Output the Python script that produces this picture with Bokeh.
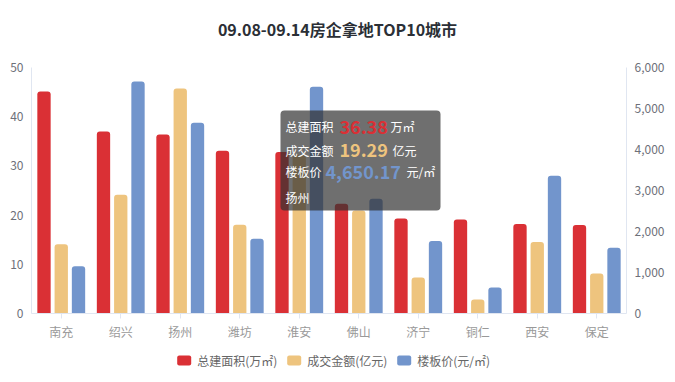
from bokeh.plotting import figure
from bokeh.layouts import column
from bokeh.models import (FactorRange, Range1d, LinearAxis, NumeralTickFormatter,
                          BoxAnnotation, Label, ColumnDataSource)
from bokeh.core.properties import value
from bokeh.transform import dodge
from bokeh.embed import file_html
from bokeh.resources import INLINE

# ---------------- data ----------------
cities = ["南充", "绍兴", "扬州", "潍坊", "淮安", "佛山", "济宁", "铜仁", "西安", "保定"]
area = [45.1, 37.0, 36.38, 33.1, 32.8, 22.3, 19.3, 19.1, 18.2, 18.0]        # 总建面积(万㎡)
amount = [5.93, 10.17, 19.29, 7.61, 13.6, 8.83, 3.08, 1.20, 6.12, 3.42]     # 成交金额(亿元)
price = [1151, 5659, 4650.17, 1825, 5530, 2798, 1766, 633, 3358, 1606]      # 楼板价(元/㎡)
left_ticks = [0, 10, 20, 30, 40, 50]
right_ticks = [0, 1000, 2000, 3000, 4000, 5000, 6000]
series_names = ["总建面积(万㎡)", "成交金额(亿元)", "楼板价(元/㎡)"]
title_text = "09.08-09.14房企拿地TOP10城市"
tip_city = "扬州"

# ---------------- style / layout ----------------
RED, YELLOW, BLUE = "#da3035", "#eec47e", "#7295cc"
COLORS = [RED, YELLOW, BLUE]
FONT = "Noto Sans CJK SC"
AXIS_LINE = "#e0e6f1"
TOTAL_W = 675
TITLE_H, LEGEND_H = 45, 37
FL, FR, FT, FB = 31, 49, 22, 32        # borders of the main figure
FW, FH = TOTAL_W - FL - FR, 246

# strips share the main frame's horizontal extent (column aligns frames),
# so their x range is given in page pixels of that extent
def strip(h):
    f = figure(width=TOTAL_W, height=h, x_range=Range1d(FL, TOTAL_W - FR), y_range=Range1d(0, h),
               output_backend="svg", toolbar_location=None, x_axis_location=None,
               y_axis_location=None, min_border_left=FL, min_border_right=FR,
               min_border_top=0, min_border_bottom=0)
    f.grid.visible = False
    f.outline_line_color = None
    return f

# ---------------- title strip ----------------
pt = strip(TITLE_H)
pt.text(x=[337], y=[TITLE_H - 28.5], text=[title_text], text_font=value(FONT),
        text_font_size="16px", text_font_style="bold", text_color="#2b2f36",
        text_align="center", text_baseline="middle")

# ---------------- main chart ----------------
p = figure(x_range=FactorRange(*cities), y_range=Range1d(0, 50),
           frame_width=FW, frame_height=FH, output_backend="svg", toolbar_location=None,
           min_border_left=FL, min_border_right=FR, min_border_top=FT, min_border_bottom=FB)
p.x_range.range_padding = 0
p.extra_y_ranges = {"price": Range1d(0, 6000), "amount": Range1d(0, 21.09)}

src = ColumnDataSource(dict(city=cities, area=area, amount=amount, price=price))
bw = 0.224
p.vbar(x=dodge("city", -0.29, range=p.x_range), top="area", width=bw, source=src,
       fill_color=RED, line_color=None, border_radius=(3, 3, 0, 0))
p.vbar(x=dodge("city", 0.0, range=p.x_range), top="amount", width=bw, source=src,
       fill_color=YELLOW, line_color=None, border_radius=(3, 3, 0, 0), y_range_name="amount")
p.vbar(x=dodge("city", 0.29, range=p.x_range), top="price", width=bw, source=src,
       fill_color=BLUE, line_color=None, border_radius=(3, 3, 0, 0), y_range_name="price")

p.xgrid.grid_line_color = None
p.ygrid.grid_line_color = None
p.outline_line_color = None

p.yaxis.ticker = left_ticks
yl = p.yaxis[0]
yr = LinearAxis(y_range_name="price", ticker=right_ticks,
                formatter=NumeralTickFormatter(format="0,0"))
p.add_layout(yr, "right")
for ax in (yl, yr):
    ax.major_tick_line_color = None
    ax.minor_tick_line_color = None
    ax.major_tick_out = 0
    ax.major_tick_in = 0
    ax.axis_line_color = AXIS_LINE
    ax.major_label_text_color = "#6e7079"
    ax.major_label_text_font = FONT
    ax.major_label_text_font_size = "12px"
    ax.major_label_standoff = 8

xa = p.xaxis[0]
xa.axis_line_color = AXIS_LINE
xa.major_tick_line_color = AXIS_LINE
xa.major_tick_out = 5
xa.major_tick_in = 0
xa.minor_tick_line_color = None
xa.major_label_text_color = "#999999"
xa.major_label_text_font = FONT
xa.major_label_text_font_size = "12px"
xa.major_label_standoff = 4

# ---------------- tooltip (static, as in the picture) ----------------
Y0 = TITLE_H + FT        # page y of the frame top
def px2x(x):
    return (x - FL) / FW * len(cities)
def py2y(y):
    return (Y0 + FH - y) / FH * 50

i = cities.index(tip_city)
p.add_layout(BoxAnnotation(left=px2x(280), right=px2x(440), top=py2y(110), bottom=py2y(210),
                           fill_color="#323232", fill_alpha=0.7, line_color=None,
                           border_radius=4, level="overlay"))

def lab(x, y, text, color="#ffffff", size="12px", bold=False):
    p.add_layout(Label(x=px2x(x), y=py2y(y), text=text, text_color=color, text_font=FONT,
                       text_font_size=size, text_font_style="bold" if bold else "normal",
                       text_baseline="middle", text_align="left", level="overlay"))

lab(285, 126, "总建面积")
lab(339, 126, f"{area[i]:.2f}", RED, "18px", True)
lab(390, 126, "万㎡")
lab(285, 149.5, "成交金额")
lab(339, 149.5, f"{amount[i]:.2f}", YELLOW, "18px", True)
lab(392, 149.5, "亿元")
lab(285, 171, "楼板价")
lab(325, 171, f"{price[i]:,.2f}", BLUE, "18px", True)
lab(406, 171, "元/㎡")
lab(285, 197, tip_city)

# ---------------- legend strip ----------------
pl = strip(LEGEND_H)
key_left = [176.7, 286.7, 396.7]
key_y = LEGEND_H - 15
pl.quad(left=key_left, right=[k + 14 for k in key_left], bottom=[key_y - 5] * 3,
        top=[key_y + 5] * 3, fill_color=COLORS, line_color=None, border_radius=2)
pl.text(x=[k + 20 for k in key_left], y=[key_y] * 3, text=series_names,
        text_font=value(FONT), text_font_size="12px", text_color="#666666",
        text_align="left", text_baseline="middle")

layout = column(pt, p, pl, spacing=0)
open("out.html", "w").write(file_html(layout, INLINE))
